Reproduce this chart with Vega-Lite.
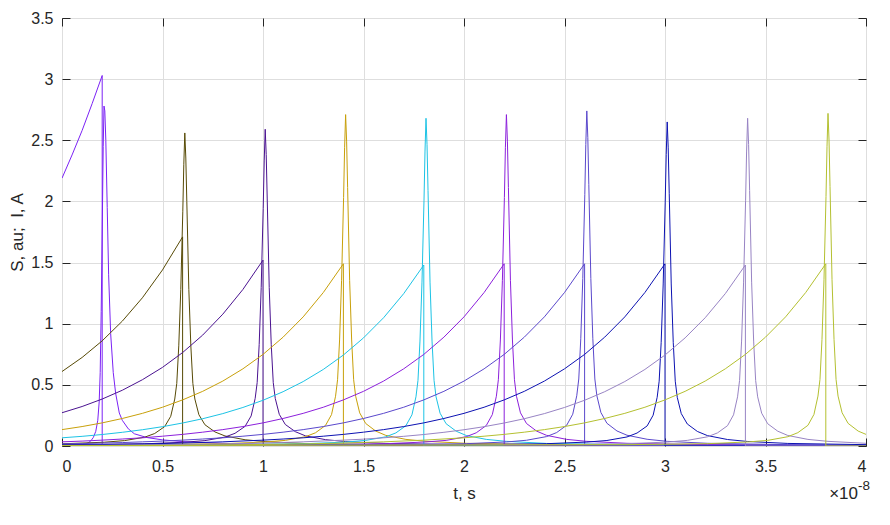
{
  "$schema": "https://vega.github.io/schema/vega-lite/v6.json",
  "width": 804,
  "height": 428,
  "autosize": "none",
  "padding": {"left": 62, "top": 18, "right": 24, "bottom": 79},
  "config": {
    "font": "Liberation Sans",
    "view": {"stroke": "#262626", "strokeWidth": 1},
    "axis": {
      "labelFont": "Liberation Sans",
      "labelFontSize": 16,
      "labelColor": "#262626",
      "titleFont": "Liberation Sans",
      "titleFontSize": 17,
      "titleFontWeight": "normal",
      "titleColor": "#262626",
      "tickColor": "#262626",
      "tickWidth": 1,
      "tickSize": -8,
      "gridColor": "#dedede",
      "gridWidth": 1,
      "domain": false
    }
  },
  "resolve": {"axis": {"x": "independent", "y": "independent"}},
  "layer": [
    {
      "data": {"values": [
        {"k":0,"c":"I0","t":0,"v":2.19},{"k":0,"c":"I0","t":0.05,"v":2.38},{"k":0,"c":"I0","t":0.1,"v":2.58},{"k":0,"c":"I0","t":0.15,"v":2.80},{"k":0,"c":"I0","t":0.2,"v":3.03},{"k":0,"c":"I0","t":0.2,"v":0},{"k":0,"c":"I0","t":4,"v":0},
        {"k":0,"c":"S0","t":0,"v":0.002},{"k":0,"c":"S0","t":0.05,"v":0.004},{"k":0,"c":"S0","t":0.1,"v":0.01},{"k":0,"c":"S0","t":0.13,"v":0.025},{"k":0,"c":"S0","t":0.145,"v":0.045},{"k":0,"c":"S0","t":0.156,"v":0.07},{"k":0,"c":"S0","t":0.168,"v":0.12},{"k":0,"c":"S0","t":0.178,"v":0.21},{"k":0,"c":"S0","t":0.185,"v":0.36},{"k":0,"c":"S0","t":0.19,"v":0.6},{"k":0,"c":"S0","t":0.195,"v":1.1},{"k":0,"c":"S0","t":0.2,"v":1.75},{"k":0,"c":"S0","t":0.205,"v":2.45},{"k":0,"c":"S0","t":0.209,"v":2.78},{"k":0,"c":"S0","t":0.213,"v":2.74},{"k":0,"c":"S0","t":0.218,"v":2.5},{"k":0,"c":"S0","t":0.225,"v":1.95},{"k":0,"c":"S0","t":0.232,"v":1.4},{"k":0,"c":"S0","t":0.242,"v":0.92},{"k":0,"c":"S0","t":0.255,"v":0.6},{"k":0,"c":"S0","t":0.267,"v":0.43},{"k":0,"c":"S0","t":0.285,"v":0.27},{"k":0,"c":"S0","t":0.3,"v":0.21},{"k":0,"c":"S0","t":0.33,"v":0.14},{"k":0,"c":"S0","t":0.36,"v":0.1},{"k":0,"c":"S0","t":0.42,"v":0.07},{"k":0,"c":"S0","t":0.5,"v":0.05},{"k":0,"c":"S0","t":0.6,"v":0.036},{"k":0,"c":"S0","t":0.8,"v":0.022},{"k":0,"c":"S0","t":1.0,"v":0.014},{"k":0,"c":"S0","t":1.5,"v":0.007},{"k":0,"c":"S0","t":2.0,"v":0.004},{"k":0,"c":"S0","t":3.0,"v":0.002},{"k":0,"c":"S0","t":4.0,"v":0.001},

        {"k":1,"c":"I1","t":0,"v":0.609},{"k":1,"c":"I1","t":0.1,"v":0.724},{"k":1,"c":"I1","t":0.2,"v":0.860},{"k":1,"c":"I1","t":0.3,"v":1.021},{"k":1,"c":"I1","t":0.4,"v":1.212},{"k":1,"c":"I1","t":0.5,"v":1.440},{"k":1,"c":"I1","t":0.6,"v":1.71},{"k":1,"c":"I1","t":0.6,"v":0},{"k":1,"c":"I1","t":4,"v":0},
        {"k":1,"c":"S1","t":0,"v":0.018},{"k":1,"c":"S1","t":0.211,"v":0.031},{"k":1,"c":"S1","t":0.311,"v":0.044},{"k":1,"c":"S1","t":0.411,"v":0.072},{"k":1,"c":"S1","t":0.461,"v":0.102},{"k":1,"c":"S1","t":0.511,"v":0.159},{"k":1,"c":"S1","t":0.541,"v":0.243},{"k":1,"c":"S1","t":0.561,"v":0.384},{"k":1,"c":"S1","t":0.571,"v":0.512},{"k":1,"c":"S1","t":0.581,"v":0.819},{"k":1,"c":"S1","t":0.591,"v":1.28},{"k":1,"c":"S1","t":0.601,"v":1.92},{"k":1,"c":"S1","t":0.606,"v":2.304},{"k":1,"c":"S1","t":0.611,"v":2.56},{"k":1,"c":"S1","t":0.616,"v":2.355},{"k":1,"c":"S1","t":0.621,"v":1.997},{"k":1,"c":"S1","t":0.631,"v":1.28},{"k":1,"c":"S1","t":0.641,"v":0.819},{"k":1,"c":"S1","t":0.651,"v":0.512},{"k":1,"c":"S1","t":0.661,"v":0.384},{"k":1,"c":"S1","t":0.681,"v":0.256},{"k":1,"c":"S1","t":0.711,"v":0.174},{"k":1,"c":"S1","t":0.761,"v":0.115},{"k":1,"c":"S1","t":0.811,"v":0.082},{"k":1,"c":"S1","t":0.911,"v":0.051},{"k":1,"c":"S1","t":1.011,"v":0.036},{"k":1,"c":"S1","t":1.211,"v":0.020},{"k":1,"c":"S1","t":1.611,"v":0.010},{"k":1,"c":"S1","t":4,"v":0.003},

        {"k":2,"c":"I2","t":0,"v":0.272},{"k":2,"c":"I2","t":0.1,"v":0.323},{"k":2,"c":"I2","t":0.2,"v":0.384},{"k":2,"c":"I2","t":0.3,"v":0.456},{"k":2,"c":"I2","t":0.4,"v":0.542},{"k":2,"c":"I2","t":0.5,"v":0.643},{"k":2,"c":"I2","t":0.6,"v":0.764},{"k":2,"c":"I2","t":0.7,"v":0.907},{"k":2,"c":"I2","t":0.8,"v":1.078},{"k":2,"c":"I2","t":0.9,"v":1.280},{"k":2,"c":"I2","t":1.0,"v":1.52},{"k":2,"c":"I2","t":1.0,"v":0},{"k":2,"c":"I2","t":4,"v":0},
        {"k":2,"c":"S2","t":0,"v":0.010},{"k":2,"c":"S2","t":0.411,"v":0.018},{"k":2,"c":"S2","t":0.611,"v":0.031},{"k":2,"c":"S2","t":0.711,"v":0.044},{"k":2,"c":"S2","t":0.811,"v":0.073},{"k":2,"c":"S2","t":0.861,"v":0.104},{"k":2,"c":"S2","t":0.911,"v":0.161},{"k":2,"c":"S2","t":0.941,"v":0.246},{"k":2,"c":"S2","t":0.961,"v":0.389},{"k":2,"c":"S2","t":0.971,"v":0.518},{"k":2,"c":"S2","t":0.981,"v":0.829},{"k":2,"c":"S2","t":0.991,"v":1.295},{"k":2,"c":"S2","t":1.001,"v":1.943},{"k":2,"c":"S2","t":1.006,"v":2.331},{"k":2,"c":"S2","t":1.011,"v":2.59},{"k":2,"c":"S2","t":1.016,"v":2.383},{"k":2,"c":"S2","t":1.021,"v":2.020},{"k":2,"c":"S2","t":1.031,"v":1.295},{"k":2,"c":"S2","t":1.041,"v":0.829},{"k":2,"c":"S2","t":1.051,"v":0.518},{"k":2,"c":"S2","t":1.061,"v":0.389},{"k":2,"c":"S2","t":1.081,"v":0.259},{"k":2,"c":"S2","t":1.111,"v":0.176},{"k":2,"c":"S2","t":1.161,"v":0.117},{"k":2,"c":"S2","t":1.211,"v":0.083},{"k":2,"c":"S2","t":1.311,"v":0.052},{"k":2,"c":"S2","t":1.411,"v":0.036},{"k":2,"c":"S2","t":1.611,"v":0.021},{"k":2,"c":"S2","t":2.011,"v":0.010},{"k":2,"c":"S2","t":4,"v":0.003},

        {"k":3,"c":"I3","t":0,"v":0.134},{"k":3,"c":"I3","t":0.1,"v":0.159},{"k":3,"c":"I3","t":0.2,"v":0.189},{"k":3,"c":"I3","t":0.3,"v":0.225},{"k":3,"c":"I3","t":0.4,"v":0.267},{"k":3,"c":"I3","t":0.5,"v":0.317},{"k":3,"c":"I3","t":0.6,"v":0.377},{"k":3,"c":"I3","t":0.7,"v":0.447},{"k":3,"c":"I3","t":0.8,"v":0.531},{"k":3,"c":"I3","t":0.9,"v":0.631},{"k":3,"c":"I3","t":1.0,"v":0.749},{"k":3,"c":"I3","t":1.1,"v":0.890},{"k":3,"c":"I3","t":1.2,"v":1.056},{"k":3,"c":"I3","t":1.3,"v":1.255},{"k":3,"c":"I3","t":1.4,"v":1.49},{"k":3,"c":"I3","t":1.4,"v":0},{"k":3,"c":"I3","t":4,"v":0},
        {"k":3,"c":"S3","t":0,"v":0.004},{"k":3,"c":"S3","t":0.411,"v":0.011},{"k":3,"c":"S3","t":0.811,"v":0.019},{"k":3,"c":"S3","t":1.011,"v":0.033},{"k":3,"c":"S3","t":1.111,"v":0.046},{"k":3,"c":"S3","t":1.211,"v":0.076},{"k":3,"c":"S3","t":1.261,"v":0.108},{"k":3,"c":"S3","t":1.311,"v":0.168},{"k":3,"c":"S3","t":1.341,"v":0.257},{"k":3,"c":"S3","t":1.361,"v":0.407},{"k":3,"c":"S3","t":1.371,"v":0.542},{"k":3,"c":"S3","t":1.381,"v":0.867},{"k":3,"c":"S3","t":1.391,"v":1.355},{"k":3,"c":"S3","t":1.401,"v":2.033},{"k":3,"c":"S3","t":1.406,"v":2.439},{"k":3,"c":"S3","t":1.411,"v":2.71},{"k":3,"c":"S3","t":1.416,"v":2.493},{"k":3,"c":"S3","t":1.421,"v":2.114},{"k":3,"c":"S3","t":1.431,"v":1.355},{"k":3,"c":"S3","t":1.441,"v":0.867},{"k":3,"c":"S3","t":1.451,"v":0.542},{"k":3,"c":"S3","t":1.461,"v":0.407},{"k":3,"c":"S3","t":1.481,"v":0.271},{"k":3,"c":"S3","t":1.511,"v":0.184},{"k":3,"c":"S3","t":1.561,"v":0.122},{"k":3,"c":"S3","t":1.611,"v":0.087},{"k":3,"c":"S3","t":1.711,"v":0.054},{"k":3,"c":"S3","t":1.811,"v":0.038},{"k":3,"c":"S3","t":2.011,"v":0.022},{"k":3,"c":"S3","t":2.411,"v":0.011},{"k":3,"c":"S3","t":4,"v":0.003},

        {"k":4,"c":"I4","t":0,"v":0.067},{"k":4,"c":"I4","t":0.1,"v":0.079},{"k":4,"c":"I4","t":0.2,"v":0.094},{"k":4,"c":"I4","t":0.3,"v":0.112},{"k":4,"c":"I4","t":0.4,"v":0.133},{"k":4,"c":"I4","t":0.5,"v":0.158},{"k":4,"c":"I4","t":0.6,"v":0.188},{"k":4,"c":"I4","t":0.7,"v":0.223},{"k":4,"c":"I4","t":0.8,"v":0.265},{"k":4,"c":"I4","t":0.9,"v":0.315},{"k":4,"c":"I4","t":1.0,"v":0.374},{"k":4,"c":"I4","t":1.1,"v":0.444},{"k":4,"c":"I4","t":1.2,"v":0.527},{"k":4,"c":"I4","t":1.3,"v":0.626},{"k":4,"c":"I4","t":1.4,"v":0.744},{"k":4,"c":"I4","t":1.5,"v":0.884},{"k":4,"c":"I4","t":1.6,"v":1.049},{"k":4,"c":"I4","t":1.7,"v":1.246},{"k":4,"c":"I4","t":1.8,"v":1.48},{"k":4,"c":"I4","t":1.8,"v":0},{"k":4,"c":"I4","t":4,"v":0},
        {"k":4,"c":"S4","t":0,"v":0.003},{"k":4,"c":"S4","t":0.811,"v":0.011},{"k":4,"c":"S4","t":1.211,"v":0.019},{"k":4,"c":"S4","t":1.411,"v":0.032},{"k":4,"c":"S4","t":1.511,"v":0.046},{"k":4,"c":"S4","t":1.611,"v":0.075},{"k":4,"c":"S4","t":1.661,"v":0.107},{"k":4,"c":"S4","t":1.711,"v":0.166},{"k":4,"c":"S4","t":1.741,"v":0.255},{"k":4,"c":"S4","t":1.761,"v":0.402},{"k":4,"c":"S4","t":1.771,"v":0.536},{"k":4,"c":"S4","t":1.781,"v":0.858},{"k":4,"c":"S4","t":1.791,"v":1.34},{"k":4,"c":"S4","t":1.801,"v":2.01},{"k":4,"c":"S4","t":1.806,"v":2.412},{"k":4,"c":"S4","t":1.811,"v":2.68},{"k":4,"c":"S4","t":1.816,"v":2.466},{"k":4,"c":"S4","t":1.821,"v":2.090},{"k":4,"c":"S4","t":1.831,"v":1.34},{"k":4,"c":"S4","t":1.841,"v":0.858},{"k":4,"c":"S4","t":1.851,"v":0.536},{"k":4,"c":"S4","t":1.861,"v":0.402},{"k":4,"c":"S4","t":1.881,"v":0.268},{"k":4,"c":"S4","t":1.911,"v":0.182},{"k":4,"c":"S4","t":1.961,"v":0.121},{"k":4,"c":"S4","t":2.011,"v":0.086},{"k":4,"c":"S4","t":2.111,"v":0.054},{"k":4,"c":"S4","t":2.211,"v":0.038},{"k":4,"c":"S4","t":2.411,"v":0.021},{"k":4,"c":"S4","t":2.811,"v":0.011},{"k":4,"c":"S4","t":4,"v":0.003},

        {"k":5,"c":"I5","t":0,"v":0.034},{"k":5,"c":"I5","t":0.1,"v":0.040},{"k":5,"c":"I5","t":0.2,"v":0.048},{"k":5,"c":"I5","t":0.3,"v":0.057},{"k":5,"c":"I5","t":0.4,"v":0.067},{"k":5,"c":"I5","t":0.5,"v":0.080},{"k":5,"c":"I5","t":0.6,"v":0.095},{"k":5,"c":"I5","t":0.7,"v":0.113},{"k":5,"c":"I5","t":0.8,"v":0.134},{"k":5,"c":"I5","t":0.9,"v":0.159},{"k":5,"c":"I5","t":1.0,"v":0.189},{"k":5,"c":"I5","t":1.1,"v":0.225},{"k":5,"c":"I5","t":1.2,"v":0.267},{"k":5,"c":"I5","t":1.3,"v":0.317},{"k":5,"c":"I5","t":1.4,"v":0.377},{"k":5,"c":"I5","t":1.5,"v":0.447},{"k":5,"c":"I5","t":1.6,"v":0.531},{"k":5,"c":"I5","t":1.7,"v":0.631},{"k":5,"c":"I5","t":1.8,"v":0.749},{"k":5,"c":"I5","t":1.9,"v":0.890},{"k":5,"c":"I5","t":2.0,"v":1.056},{"k":5,"c":"I5","t":2.1,"v":1.255},{"k":5,"c":"I5","t":2.2,"v":1.49},{"k":5,"c":"I5","t":2.2,"v":0},{"k":5,"c":"I5","t":4,"v":0},
        {"k":5,"c":"S5","t":0,"v":0.003},{"k":5,"c":"S5","t":1.211,"v":0.011},{"k":5,"c":"S5","t":1.611,"v":0.019},{"k":5,"c":"S5","t":1.811,"v":0.033},{"k":5,"c":"S5","t":1.911,"v":0.046},{"k":5,"c":"S5","t":2.011,"v":0.076},{"k":5,"c":"S5","t":2.061,"v":0.108},{"k":5,"c":"S5","t":2.111,"v":0.168},{"k":5,"c":"S5","t":2.141,"v":0.257},{"k":5,"c":"S5","t":2.161,"v":0.407},{"k":5,"c":"S5","t":2.171,"v":0.542},{"k":5,"c":"S5","t":2.181,"v":0.867},{"k":5,"c":"S5","t":2.191,"v":1.355},{"k":5,"c":"S5","t":2.201,"v":2.033},{"k":5,"c":"S5","t":2.206,"v":2.439},{"k":5,"c":"S5","t":2.211,"v":2.71},{"k":5,"c":"S5","t":2.216,"v":2.493},{"k":5,"c":"S5","t":2.221,"v":2.114},{"k":5,"c":"S5","t":2.231,"v":1.355},{"k":5,"c":"S5","t":2.241,"v":0.867},{"k":5,"c":"S5","t":2.251,"v":0.542},{"k":5,"c":"S5","t":2.261,"v":0.407},{"k":5,"c":"S5","t":2.281,"v":0.271},{"k":5,"c":"S5","t":2.311,"v":0.184},{"k":5,"c":"S5","t":2.361,"v":0.122},{"k":5,"c":"S5","t":2.411,"v":0.087},{"k":5,"c":"S5","t":2.511,"v":0.054},{"k":5,"c":"S5","t":2.611,"v":0.038},{"k":5,"c":"S5","t":2.811,"v":0.022},{"k":5,"c":"S5","t":3.211,"v":0.011},{"k":5,"c":"S5","t":4,"v":0.004},

        {"k":6,"c":"I6","t":0,"v":0.017},{"k":6,"c":"I6","t":0.1,"v":0.020},{"k":6,"c":"I6","t":0.2,"v":0.024},{"k":6,"c":"I6","t":0.3,"v":0.028},{"k":6,"c":"I6","t":0.4,"v":0.034},{"k":6,"c":"I6","t":0.5,"v":0.040},{"k":6,"c":"I6","t":0.6,"v":0.048},{"k":6,"c":"I6","t":0.7,"v":0.057},{"k":6,"c":"I6","t":0.8,"v":0.067},{"k":6,"c":"I6","t":0.9,"v":0.080},{"k":6,"c":"I6","t":1.0,"v":0.095},{"k":6,"c":"I6","t":1.1,"v":0.113},{"k":6,"c":"I6","t":1.2,"v":0.134},{"k":6,"c":"I6","t":1.3,"v":0.159},{"k":6,"c":"I6","t":1.4,"v":0.189},{"k":6,"c":"I6","t":1.5,"v":0.225},{"k":6,"c":"I6","t":1.6,"v":0.267},{"k":6,"c":"I6","t":1.7,"v":0.317},{"k":6,"c":"I6","t":1.8,"v":0.377},{"k":6,"c":"I6","t":1.9,"v":0.447},{"k":6,"c":"I6","t":2.0,"v":0.531},{"k":6,"c":"I6","t":2.1,"v":0.631},{"k":6,"c":"I6","t":2.2,"v":0.749},{"k":6,"c":"I6","t":2.3,"v":0.890},{"k":6,"c":"I6","t":2.4,"v":1.056},{"k":6,"c":"I6","t":2.5,"v":1.255},{"k":6,"c":"I6","t":2.6,"v":1.49},{"k":6,"c":"I6","t":2.6,"v":0},{"k":6,"c":"I6","t":4,"v":0},
        {"k":6,"c":"S6","t":0,"v":0.003},{"k":6,"c":"S6","t":1.611,"v":0.011},{"k":6,"c":"S6","t":2.011,"v":0.019},{"k":6,"c":"S6","t":2.211,"v":0.033},{"k":6,"c":"S6","t":2.311,"v":0.047},{"k":6,"c":"S6","t":2.411,"v":0.077},{"k":6,"c":"S6","t":2.461,"v":0.110},{"k":6,"c":"S6","t":2.511,"v":0.170},{"k":6,"c":"S6","t":2.541,"v":0.260},{"k":6,"c":"S6","t":2.561,"v":0.411},{"k":6,"c":"S6","t":2.571,"v":0.548},{"k":6,"c":"S6","t":2.581,"v":0.877},{"k":6,"c":"S6","t":2.591,"v":1.37},{"k":6,"c":"S6","t":2.601,"v":2.055},{"k":6,"c":"S6","t":2.606,"v":2.466},{"k":6,"c":"S6","t":2.611,"v":2.74},{"k":6,"c":"S6","t":2.616,"v":2.521},{"k":6,"c":"S6","t":2.621,"v":2.137},{"k":6,"c":"S6","t":2.631,"v":1.37},{"k":6,"c":"S6","t":2.641,"v":0.877},{"k":6,"c":"S6","t":2.651,"v":0.548},{"k":6,"c":"S6","t":2.661,"v":0.411},{"k":6,"c":"S6","t":2.681,"v":0.274},{"k":6,"c":"S6","t":2.711,"v":0.186},{"k":6,"c":"S6","t":2.761,"v":0.123},{"k":6,"c":"S6","t":2.811,"v":0.088},{"k":6,"c":"S6","t":2.911,"v":0.055},{"k":6,"c":"S6","t":3.011,"v":0.038},{"k":6,"c":"S6","t":3.211,"v":0.022},{"k":6,"c":"S6","t":3.611,"v":0.011},{"k":6,"c":"S6","t":4,"v":0.007},

        {"k":7,"c":"I7","t":0,"v":0.0085},{"k":7,"c":"I7","t":0.2,"v":0.012},{"k":7,"c":"I7","t":0.4,"v":0.017},{"k":7,"c":"I7","t":0.6,"v":0.024},{"k":7,"c":"I7","t":0.8,"v":0.034},{"k":7,"c":"I7","t":1.0,"v":0.048},{"k":7,"c":"I7","t":1.1,"v":0.057},{"k":7,"c":"I7","t":1.2,"v":0.067},{"k":7,"c":"I7","t":1.3,"v":0.080},{"k":7,"c":"I7","t":1.4,"v":0.095},{"k":7,"c":"I7","t":1.5,"v":0.113},{"k":7,"c":"I7","t":1.6,"v":0.134},{"k":7,"c":"I7","t":1.7,"v":0.159},{"k":7,"c":"I7","t":1.8,"v":0.189},{"k":7,"c":"I7","t":1.9,"v":0.225},{"k":7,"c":"I7","t":2.0,"v":0.267},{"k":7,"c":"I7","t":2.1,"v":0.317},{"k":7,"c":"I7","t":2.2,"v":0.377},{"k":7,"c":"I7","t":2.3,"v":0.447},{"k":7,"c":"I7","t":2.4,"v":0.531},{"k":7,"c":"I7","t":2.5,"v":0.631},{"k":7,"c":"I7","t":2.6,"v":0.749},{"k":7,"c":"I7","t":2.7,"v":0.890},{"k":7,"c":"I7","t":2.8,"v":1.056},{"k":7,"c":"I7","t":2.9,"v":1.255},{"k":7,"c":"I7","t":3.0,"v":1.49},{"k":7,"c":"I7","t":3.0,"v":0},{"k":7,"c":"I7","t":4,"v":0},
        {"k":7,"c":"S7","t":0,"v":0.003},{"k":7,"c":"S7","t":2.011,"v":0.011},{"k":7,"c":"S7","t":2.411,"v":0.019},{"k":7,"c":"S7","t":2.611,"v":0.032},{"k":7,"c":"S7","t":2.711,"v":0.045},{"k":7,"c":"S7","t":2.811,"v":0.074},{"k":7,"c":"S7","t":2.861,"v":0.106},{"k":7,"c":"S7","t":2.911,"v":0.164},{"k":7,"c":"S7","t":2.941,"v":0.252},{"k":7,"c":"S7","t":2.961,"v":0.398},{"k":7,"c":"S7","t":2.971,"v":0.53},{"k":7,"c":"S7","t":2.981,"v":0.848},{"k":7,"c":"S7","t":2.991,"v":1.325},{"k":7,"c":"S7","t":3.001,"v":1.988},{"k":7,"c":"S7","t":3.006,"v":2.385},{"k":7,"c":"S7","t":3.011,"v":2.65},{"k":7,"c":"S7","t":3.016,"v":2.438},{"k":7,"c":"S7","t":3.021,"v":2.067},{"k":7,"c":"S7","t":3.031,"v":1.325},{"k":7,"c":"S7","t":3.041,"v":0.848},{"k":7,"c":"S7","t":3.051,"v":0.53},{"k":7,"c":"S7","t":3.061,"v":0.398},{"k":7,"c":"S7","t":3.081,"v":0.265},{"k":7,"c":"S7","t":3.111,"v":0.180},{"k":7,"c":"S7","t":3.161,"v":0.119},{"k":7,"c":"S7","t":3.211,"v":0.085},{"k":7,"c":"S7","t":3.311,"v":0.053},{"k":7,"c":"S7","t":3.411,"v":0.037},{"k":7,"c":"S7","t":3.611,"v":0.021},{"k":7,"c":"S7","t":4,"v":0.011},

        {"k":8,"c":"I8","t":0,"v":0.0043},{"k":8,"c":"I8","t":0.2,"v":0.0061},{"k":8,"c":"I8","t":0.4,"v":0.0084},{"k":8,"c":"I8","t":0.6,"v":0.012},{"k":8,"c":"I8","t":0.8,"v":0.017},{"k":8,"c":"I8","t":1.0,"v":0.024},{"k":8,"c":"I8","t":1.2,"v":0.034},{"k":8,"c":"I8","t":1.4,"v":0.048},{"k":8,"c":"I8","t":1.5,"v":0.056},{"k":8,"c":"I8","t":1.6,"v":0.067},{"k":8,"c":"I8","t":1.7,"v":0.079},{"k":8,"c":"I8","t":1.8,"v":0.094},{"k":8,"c":"I8","t":1.9,"v":0.112},{"k":8,"c":"I8","t":2.0,"v":0.133},{"k":8,"c":"I8","t":2.1,"v":0.158},{"k":8,"c":"I8","t":2.2,"v":0.188},{"k":8,"c":"I8","t":2.3,"v":0.223},{"k":8,"c":"I8","t":2.4,"v":0.265},{"k":8,"c":"I8","t":2.5,"v":0.315},{"k":8,"c":"I8","t":2.6,"v":0.374},{"k":8,"c":"I8","t":2.7,"v":0.444},{"k":8,"c":"I8","t":2.8,"v":0.527},{"k":8,"c":"I8","t":2.9,"v":0.626},{"k":8,"c":"I8","t":3.0,"v":0.744},{"k":8,"c":"I8","t":3.1,"v":0.884},{"k":8,"c":"I8","t":3.2,"v":1.049},{"k":8,"c":"I8","t":3.3,"v":1.246},{"k":8,"c":"I8","t":3.4,"v":1.48},{"k":8,"c":"I8","t":3.4,"v":0},{"k":8,"c":"I8","t":4,"v":0},
        {"k":8,"c":"S8","t":0,"v":0.003},{"k":8,"c":"S8","t":2.411,"v":0.011},{"k":8,"c":"S8","t":2.811,"v":0.019},{"k":8,"c":"S8","t":3.011,"v":0.032},{"k":8,"c":"S8","t":3.111,"v":0.046},{"k":8,"c":"S8","t":3.211,"v":0.075},{"k":8,"c":"S8","t":3.261,"v":0.107},{"k":8,"c":"S8","t":3.311,"v":0.166},{"k":8,"c":"S8","t":3.341,"v":0.255},{"k":8,"c":"S8","t":3.361,"v":0.402},{"k":8,"c":"S8","t":3.371,"v":0.536},{"k":8,"c":"S8","t":3.381,"v":0.858},{"k":8,"c":"S8","t":3.391,"v":1.34},{"k":8,"c":"S8","t":3.401,"v":2.01},{"k":8,"c":"S8","t":3.406,"v":2.412},{"k":8,"c":"S8","t":3.411,"v":2.68},{"k":8,"c":"S8","t":3.416,"v":2.466},{"k":8,"c":"S8","t":3.421,"v":2.090},{"k":8,"c":"S8","t":3.431,"v":1.34},{"k":8,"c":"S8","t":3.441,"v":0.858},{"k":8,"c":"S8","t":3.451,"v":0.536},{"k":8,"c":"S8","t":3.461,"v":0.402},{"k":8,"c":"S8","t":3.481,"v":0.268},{"k":8,"c":"S8","t":3.511,"v":0.182},{"k":8,"c":"S8","t":3.561,"v":0.121},{"k":8,"c":"S8","t":3.611,"v":0.086},{"k":8,"c":"S8","t":3.711,"v":0.054},{"k":8,"c":"S8","t":3.811,"v":0.038},{"k":8,"c":"S8","t":4,"v":0.022},

        {"k":9,"c":"I9","t":0,"v":0.0022},{"k":9,"c":"I9","t":0.4,"v":0.0043},{"k":9,"c":"I9","t":0.8,"v":0.0085},{"k":9,"c":"I9","t":1.2,"v":0.017},{"k":9,"c":"I9","t":1.4,"v":0.024},{"k":9,"c":"I9","t":1.6,"v":0.034},{"k":9,"c":"I9","t":1.8,"v":0.048},{"k":9,"c":"I9","t":2.0,"v":0.067},{"k":9,"c":"I9","t":2.1,"v":0.080},{"k":9,"c":"I9","t":2.2,"v":0.095},{"k":9,"c":"I9","t":2.3,"v":0.113},{"k":9,"c":"I9","t":2.4,"v":0.134},{"k":9,"c":"I9","t":2.5,"v":0.159},{"k":9,"c":"I9","t":2.6,"v":0.189},{"k":9,"c":"I9","t":2.7,"v":0.225},{"k":9,"c":"I9","t":2.8,"v":0.267},{"k":9,"c":"I9","t":2.9,"v":0.317},{"k":9,"c":"I9","t":3.0,"v":0.377},{"k":9,"c":"I9","t":3.1,"v":0.447},{"k":9,"c":"I9","t":3.2,"v":0.531},{"k":9,"c":"I9","t":3.3,"v":0.631},{"k":9,"c":"I9","t":3.4,"v":0.749},{"k":9,"c":"I9","t":3.5,"v":0.890},{"k":9,"c":"I9","t":3.6,"v":1.056},{"k":9,"c":"I9","t":3.7,"v":1.255},{"k":9,"c":"I9","t":3.8,"v":1.49},{"k":9,"c":"I9","t":3.8,"v":0},{"k":9,"c":"I9","t":4,"v":0},
        {"k":9,"c":"S9","t":0,"v":0.003},{"k":9,"c":"S9","t":2.811,"v":0.011},{"k":9,"c":"S9","t":3.211,"v":0.019},{"k":9,"c":"S9","t":3.411,"v":0.033},{"k":9,"c":"S9","t":3.511,"v":0.046},{"k":9,"c":"S9","t":3.611,"v":0.076},{"k":9,"c":"S9","t":3.661,"v":0.109},{"k":9,"c":"S9","t":3.711,"v":0.169},{"k":9,"c":"S9","t":3.741,"v":0.258},{"k":9,"c":"S9","t":3.761,"v":0.408},{"k":9,"c":"S9","t":3.771,"v":0.544},{"k":9,"c":"S9","t":3.781,"v":0.870},{"k":9,"c":"S9","t":3.791,"v":1.36},{"k":9,"c":"S9","t":3.801,"v":2.04},{"k":9,"c":"S9","t":3.806,"v":2.448},{"k":9,"c":"S9","t":3.811,"v":2.72},{"k":9,"c":"S9","t":3.816,"v":2.502},{"k":9,"c":"S9","t":3.821,"v":2.122},{"k":9,"c":"S9","t":3.831,"v":1.36},{"k":9,"c":"S9","t":3.841,"v":0.870},{"k":9,"c":"S9","t":3.851,"v":0.544},{"k":9,"c":"S9","t":3.861,"v":0.408},{"k":9,"c":"S9","t":3.881,"v":0.272},{"k":9,"c":"S9","t":3.911,"v":0.185},{"k":9,"c":"S9","t":3.961,"v":0.122},{"k":9,"c":"S9","t":4,"v":0.095}
      ]},
      "mark": {"type": "line", "strokeWidth": 1, "clip": true},
      "encoding": {
        "x": {
          "field": "t", "type": "quantitative",
          "scale": {"domain": [0, 4], "nice": false, "zero": false},
          "axis": {"orient": "bottom", "values": [0, 0.5, 1, 1.5, 2, 2.5, 3, 3.5, 4], "format": "~g", "labelPadding": 20, "title": "t, s", "titlePadding": 11, "grid": true}
        },
        "y": {
          "field": "v", "type": "quantitative",
          "scale": {"domain": [0, 3.5], "nice": false, "zero": false},
          "axis": {"orient": "left", "values": [0, 0.5, 1, 1.5, 2, 2.5, 3, 3.5], "format": "~g", "labelPadding": 17, "title": "S, au;\u00a0 I, A", "titlePadding": 4, "grid": true}
        },
        "color": {
          "field": "k", "type": "nominal",
          "scale": {"domain": [0, 1, 2, 3, 4, 5, 6, 7, 8, 9], "range": ["#7b22f5", "#574a05", "#4a1290", "#c8a00a", "#1cc3e5", "#8c20dc", "#5a48cc", "#0c12b2", "#9884c4", "#b4c030"]},
          "legend": null
        },
        "detail": {"field": "c"},
        "order": {"value": null}
      }
    },
    {
      "data": {"values": [{"t": 0, "v": 0}]},
      "mark": {"type": "point", "opacity": 0},
      "encoding": {
        "x": {"field": "t", "type": "quantitative", "scale": {"domain": [0, 4], "nice": false, "zero": false},
          "axis": {"orient": "top", "values": [0, 0.5, 1, 1.5, 2, 2.5, 3, 3.5, 4], "labels": false, "title": null, "grid": false}},
        "y": {"field": "v", "type": "quantitative", "scale": {"domain": [0, 3.5], "nice": false, "zero": false},
          "axis": {"orient": "right", "values": [0, 0.5, 1, 1.5, 2, 2.5, 3, 3.5], "labels": false, "title": null, "grid": false}}
      }
    },
    {
      "data": {"values": [{"s": "×10"}]},
      "mark": {"type": "text", "align": "right", "baseline": "middle", "dx": -8, "dy": 48, "fontSize": 17, "color": "#262626", "font": "Liberation Sans"},
      "encoding": {
        "x": {"datum": 4, "type": "quantitative", "axis": null},
        "y": {"datum": 0, "type": "quantitative", "axis": null},
        "text": {"field": "s"}
      }
    },
    {
      "data": {"values": [{"s": "-8"}]},
      "mark": {"type": "text", "align": "left", "baseline": "middle", "dx": -8, "dy": 40, "fontSize": 13.5, "color": "#262626", "font": "Liberation Sans"},
      "encoding": {
        "x": {"datum": 4, "type": "quantitative", "axis": null},
        "y": {"datum": 0, "type": "quantitative", "axis": null},
        "text": {"field": "s"}
      }
    }
  ]
}
